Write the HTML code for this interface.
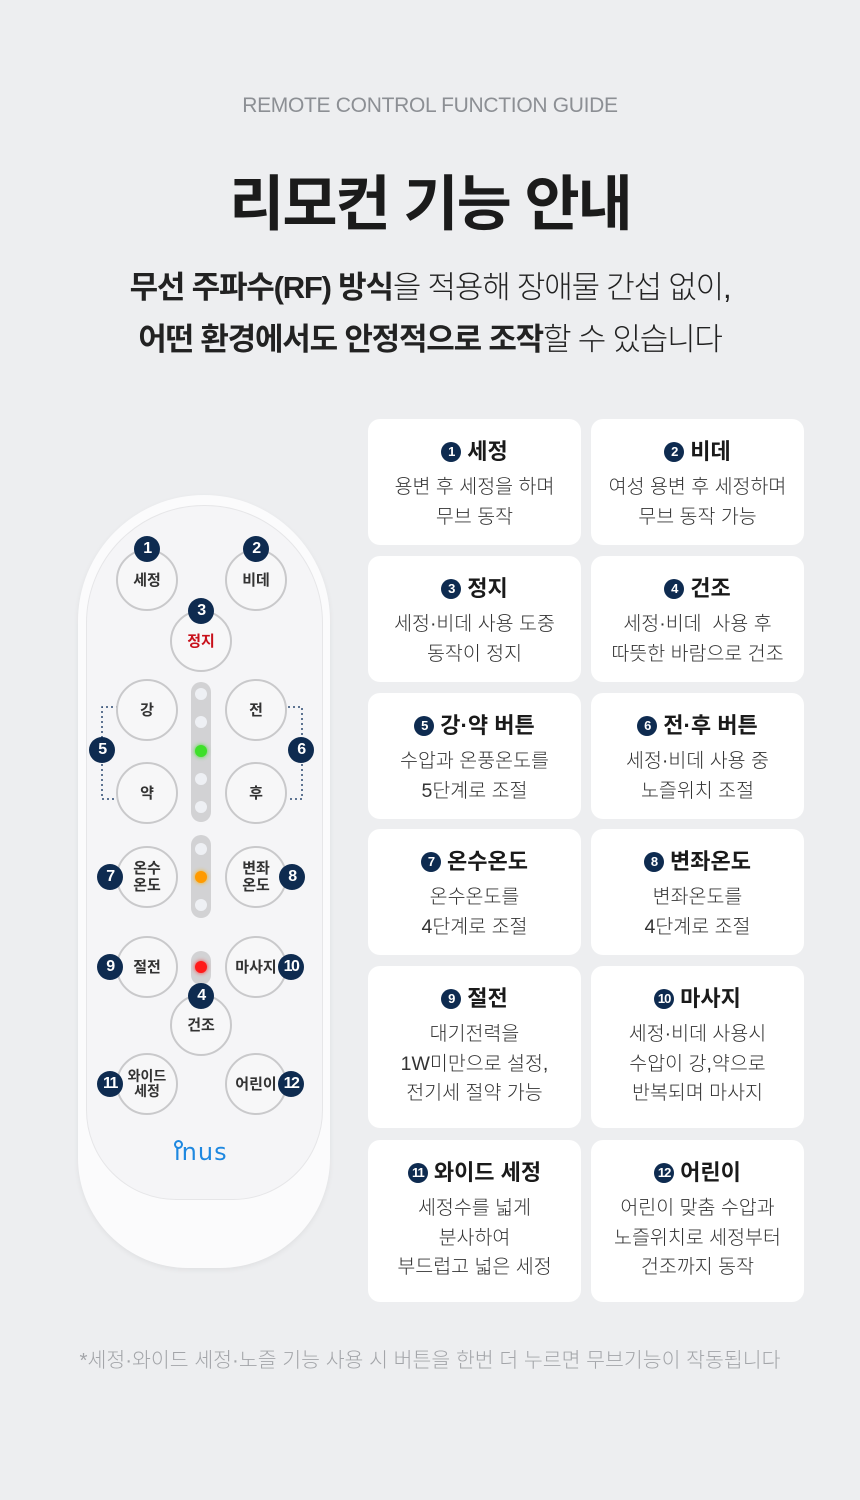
<!DOCTYPE html>
<html><head><meta charset="utf-8"><style>
*{margin:0;padding:0;box-sizing:border-box}
body{width:860px;height:1500px;background:#edeef0;font-family:"Liberation Sans","Noto Sans CJK KR",sans-serif;position:relative;overflow:hidden;color:#222}
.abs{position:absolute}
.c{text-align:center;left:0;width:860px}
.card{position:absolute;background:#fff;border-radius:12px;width:213px;text-align:center}
.card h3{font-size:22px;font-weight:700;color:#1a1a1a;margin-top:18px;line-height:30px;display:flex;justify-content:center;align-items:center;gap:6px}
.card p{font-size:19.5px;font-weight:300;color:#333;line-height:29.5px;margin-top:6px}
.cb{display:inline-block;width:20px;height:20px;border-radius:50%;background:#0e2b50;color:#fff;font-size:13px;font-weight:700;line-height:20px;text-align:center;letter-spacing:-1px}
.btn{position:absolute;width:62px;height:62px;border-radius:50%;border:2px solid #c9c9cb;background:#f7f7f8;display:flex;align-items:center;justify-content:center;text-align:center;font-size:15px;font-weight:700;color:#333;line-height:17px}
.bd{position:absolute;width:26px;height:26px;border-radius:50%;background:#0e2b50;color:#fff;font-size:16px;font-weight:700;display:flex;align-items:center;justify-content:center;letter-spacing:-1.5px}
.strip{position:absolute;left:191px;width:20px;background:#d2d2d4;border-radius:10px}
.led{position:absolute;left:195px;width:12px;height:12px;border-radius:50%;background:#eef0f4}
</style></head><body>
<div class="abs c" style="top:94px;font-size:21px;color:#8c8f94;letter-spacing:-0.3px">REMOTE CONTROL FUNCTION GUIDE</div>
<div class="abs c" style="top:156px;font-size:60px;font-weight:700;color:#1b1b1b;letter-spacing:-2px">리모컨 기능 안내</div>
<div class="abs c" style="top:262px;font-size:31px;color:#222;line-height:52px;letter-spacing:-1.2px"><b>무선 주파수(RF) 방식</b><span style="font-weight:300">을 적용해 장애물 간섭 없이,</span><br><b>어떤 환경에서도 안정적으로 조작</b><span style="font-weight:300">할 수 있습니다</span></div>

<div class="abs" style="left:78px;top:495px;width:252px;height:773px;border-radius:126px 126px 110px 110px;background:#fbfbfc;box-shadow:0 2px 6px rgba(0,0,0,.06)"></div>
<div class="abs" style="left:86px;top:505px;width:237px;height:695px;border-radius:118px 118px 90px 90px;background:#f5f5f7;border:1px solid #e6e6e8"></div>

<svg class="abs" style="left:0;top:0" width="860" height="1500">
<path d="M118 707 H102 V738 M102 764 V799 H118" fill="none" stroke="#2c4a70" stroke-width="1.5" stroke-dasharray="2,3"/>
<path d="M288 707 H302 V738 M302 764 V799 H288" fill="none" stroke="#2c4a70" stroke-width="1.5" stroke-dasharray="2,3"/>
</svg>

<div class="strip" style="top:682px;height:140px"></div>
<div class="led" style="top:688px"></div><div class="led" style="top:716px"></div>
<div class="led" style="top:745px;background:#3ee02a;box-shadow:0 0 4px #3ee02a"></div>
<div class="led" style="top:773px"></div><div class="led" style="top:801px"></div>
<div class="strip" style="top:835px;height:83px"></div>
<div class="led" style="top:843px"></div>
<div class="led" style="top:871px;background:#ff9a00;box-shadow:0 0 4px #ffb000"></div>
<div class="led" style="top:899px"></div>
<div class="strip" style="top:951px;height:34px"></div>
<div class="led" style="top:961px;background:#ff1a1a;box-shadow:0 0 4px #ff2a2a"></div>

<div class="btn" style="left:116px;top:549px">세정</div>
<div class="btn" style="left:225px;top:549px">비데</div>
<div class="btn" style="left:170px;top:610px;color:#c8101a">정지</div>
<div class="btn" style="left:116px;top:679px">강</div>
<div class="btn" style="left:225px;top:679px">전</div>
<div class="btn" style="left:116px;top:762px">약</div>
<div class="btn" style="left:225px;top:762px">후</div>
<div class="btn" style="left:116px;top:846px">온수<br>온도</div>
<div class="btn" style="left:225px;top:846px">변좌<br>온도</div>
<div class="btn" style="left:116px;top:936px">절전</div>
<div class="btn" style="left:225px;top:936px">마사지</div>
<div class="btn" style="left:170px;top:994px">건조</div>
<div class="btn" style="left:116px;top:1053px;font-size:14px;line-height:15px">와이드<br>세정</div>
<div class="btn" style="left:225px;top:1053px">어린이</div>

<div class="bd" style="left:134px;top:536px">1</div>
<div class="bd" style="left:243px;top:536px">2</div>
<div class="bd" style="left:188px;top:598px">3</div>
<div class="bd" style="left:89px;top:737px">5</div>
<div class="bd" style="left:288px;top:737px">6</div>
<div class="bd" style="left:97px;top:864px">7</div>
<div class="bd" style="left:279px;top:864px">8</div>
<div class="bd" style="left:97px;top:954px">9</div>
<div class="bd" style="left:278px;top:954px">10</div>
<div class="bd" style="left:188px;top:983px">4</div>
<div class="bd" style="left:97px;top:1071px">11</div>
<div class="bd" style="left:278px;top:1071px">12</div>

<div class="abs" style="left:174px;top:1138px;font-size:24px;color:#1e88e0;letter-spacing:1px;font-family:'DejaVu Sans',sans-serif">ınus</div>
<div class="abs" style="left:174px;top:1140px;width:9px;height:9px;border:2px solid #1e88e0;border-radius:50%"></div>

<div class="card" style="left:368px;top:419px;height:126px"><h3><span class="cb">1</span>세정</h3><p>용변 후 세정을 하며<br>무브 동작</p></div>
<div class="card" style="left:591px;top:419px;height:126px"><h3><span class="cb">2</span>비데</h3><p>여성 용변 후 세정하며<br>무브 동작 가능</p></div>
<div class="card" style="left:368px;top:556px;height:126px"><h3><span class="cb">3</span>정지</h3><p>세정·비데 사용 도중<br>동작이 정지</p></div>
<div class="card" style="left:591px;top:556px;height:126px"><h3><span class="cb">4</span>건조</h3><p>세정·비데&nbsp; 사용 후<br>따뜻한 바람으로 건조</p></div>
<div class="card" style="left:368px;top:693px;height:126px"><h3><span class="cb">5</span>강·약 버튼</h3><p>수압과 온풍온도를<br>5단계로 조절</p></div>
<div class="card" style="left:591px;top:693px;height:126px"><h3><span class="cb">6</span>전·후 버튼</h3><p>세정·비데 사용 중<br>노즐위치 조절</p></div>
<div class="card" style="left:368px;top:829px;height:126px"><h3><span class="cb">7</span>온수온도</h3><p>온수온도를<br>4단계로 조절</p></div>
<div class="card" style="left:591px;top:829px;height:126px"><h3><span class="cb">8</span>변좌온도</h3><p>변좌온도를<br>4단계로 조절</p></div>
<div class="card" style="left:368px;top:966px;height:162px"><h3><span class="cb">9</span>절전</h3><p>대기전력을<br>1W미만으로 설정,<br>전기세 절약 가능</p></div>
<div class="card" style="left:591px;top:966px;height:162px"><h3><span class="cb">10</span>마사지</h3><p>세정·비데 사용시<br>수압이 강,약으로<br>반복되며 마사지</p></div>
<div class="card" style="left:368px;top:1140px;height:162px"><h3><span class="cb">11</span>와이드 세정</h3><p>세정수를 넓게<br>분사하여<br>부드럽고 넓은 세정</p></div>
<div class="card" style="left:591px;top:1140px;height:162px"><h3><span class="cb">12</span>어린이</h3><p>어린이 맞춤 수압과<br>노즐위치로 세정부터<br>건조까지 동작</p></div>

<div class="abs c" style="top:1343px;font-size:20.5px;font-weight:300;color:#a3a5a9;letter-spacing:0">*세정·와이드 세정·노즐 기능 사용 시 버튼을 한번 더 누르면 무브기능이 작동됩니다</div>
</body></html>
